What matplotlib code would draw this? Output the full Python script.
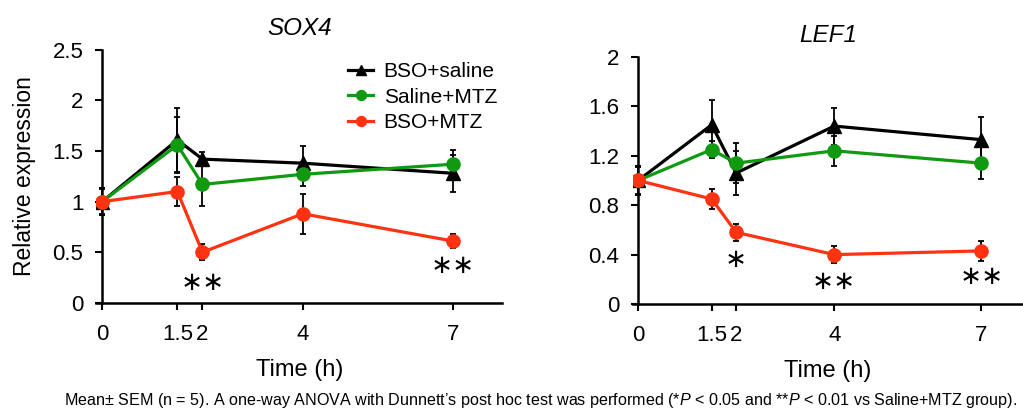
import matplotlib
matplotlib.use("Agg")
import matplotlib.pyplot as plt
import numpy as np

plt.rcParams['font.family'] = ['Liberation Sans', 'DejaVu Sans']
plt.rcParams['mathtext.fontset'] = 'custom'
plt.rcParams['mathtext.rm'] = 'Liberation Sans'
plt.rcParams['mathtext.it'] = 'Liberation Sans:italic'

# time points (h)
time_h = [0, 1.5, 2, 4, 7]
time_labels = ["0", "1.5", "2", "4", "7"]

# SOX4 relative expression (mean, SEM)
sox4_bso_saline = [1.0, 1.61, 1.42, 1.38, 1.28]
sox4_bso_saline_sem = [0.13, 0.32, 0.07, 0.17, 0.18]
sox4_saline_mtz = [1.0, 1.56, 1.17, 1.27, 1.37]
sox4_saline_mtz_sem = [0.13, 0.28, 0.21, 0.12, 0.14]
sox4_bso_mtz = [1.0, 1.10, 0.50, 0.88, 0.61]
sox4_bso_mtz_sem = [0.12, 0.14, 0.08, 0.20, 0.07]

# LEF1 relative expression (mean, SEM)
lef1_bso_saline = [1.0, 1.45, 1.06, 1.44, 1.33]
lef1_bso_saline_sem = [0.12, 0.20, 0.18, 0.15, 0.18]
lef1_saline_mtz = [1.0, 1.25, 1.14, 1.24, 1.14]
lef1_saline_mtz_sem = [0.11, 0.07, 0.16, 0.12, 0.13]
lef1_bso_mtz = [1.0, 0.85, 0.58, 0.40, 0.43]
lef1_bso_mtz_sem = [0.12, 0.08, 0.07, 0.07, 0.08]

# significance marks vs Saline+MTZ
sox4_marks = [(2, 0.20, "\u2217\u2217"), (7, 0.36, "\u2217\u2217")]
lef1_marks = [(2, 0.36, "\u2217"), (4, 0.18, "\u2217\u2217"), (7, 0.22, "\u2217\u2217")]

series_names = ["BSO+saline", "Saline+MTZ", "BSO+MTZ"]
series_colors = ["#000000", "#119911", "#ff3311"]
series_markers = ["^", "o", "o"]

fig = plt.figure(figsize=(10.23, 4.12), dpi=100)
ax1 = fig.add_axes([0.094, 0.265, 0.397, 0.614])
ax2 = fig.add_axes([0.619, 0.262, 0.381, 0.600])


def draw_panel(ax, means, sems, marks, title, ylim, yticks, ylabels, xlim):
    for m, s, name, col, mk in zip(means, sems, series_names, series_colors, series_markers):
        ax.errorbar(time_h, m, yerr=s, fmt='none', ecolor='black',
                    elinewidth=1.3, capsize=2.5, capthick=1.3, zorder=2)
        ax.plot(time_h, m, color=col, lw=2.3, marker=mk, markersize=9.5,
                label=name, zorder=3)
    for x, y, txt in marks:
        ax.text(x, y, txt, ha='center', va='center', fontsize=19,
                family='DejaVu Sans')
    ax.set_xlim(*xlim)
    ax.set_ylim(*ylim)
    ax.set_xticks(time_h)
    ax.set_xticklabels(time_labels)
    ax.set_yticks(yticks)
    ax.set_yticklabels(ylabels)
    ax.spines['top'].set_visible(False)
    ax.spines['right'].set_visible(False)
    ax.spines['left'].set_position(('data', 0))
    ax.spines['left'].set_linewidth(1.8)
    ax.spines['bottom'].set_linewidth(1.8)
    ax.tick_params(axis='both', labelsize=16, width=1.5, length=5, colors='black')
    ax.tick_params(axis='x', pad=10)
    ax.tick_params(axis='y', pad=8.5)
    ax.set_xlabel("Time (h)", fontsize=17, labelpad=10)
    ax.set_title(title, fontsize=17.5, style='italic', pad=11)


draw_panel(ax1,
           [sox4_bso_saline, sox4_saline_mtz, sox4_bso_mtz],
           [sox4_bso_saline_sem, sox4_saline_mtz_sem, sox4_bso_mtz_sem],
           sox4_marks, "SOX4", (0, 2.5), [0, 0.5, 1, 1.5, 2, 2.5],
           ["0", "0.5", "1", "1.5", "2", "2.5"], (-0.12, 7.98))
draw_panel(ax2,
           [lef1_bso_saline, lef1_saline_mtz, lef1_bso_mtz],
           [lef1_bso_saline_sem, lef1_saline_mtz_sem, lef1_bso_mtz_sem],
           lef1_marks, "LEF1", (0, 2), [0, 0.4, 0.8, 1.2, 1.6, 2],
           ["0", "0.4", "0.8", "1.2", "1.6", "2"], (-0.1, 7.85))

ax1.set_ylabel("Relative expression", fontsize=16.5, labelpad=12)
ax1.legend(loc='upper left', bbox_to_anchor=(0.59, 1.0), frameon=False,
           fontsize=15, handlelength=1.2, handletextpad=0.5,
           labelspacing=0.3, markerscale=0.75, borderaxespad=0.2)

fig.text(0.063, 0.004,
         "Mean\u00b1 SEM (n = 5). A one-way ANOVA with Dunnett\u2019s post hoc test was performed "
         "(*$P$ < 0.05 and **$P$ < 0.01 vs Saline+MTZ group).",
         fontsize=11.6, ha='left', va='bottom')

fig.savefig("out.png", dpi=100)
